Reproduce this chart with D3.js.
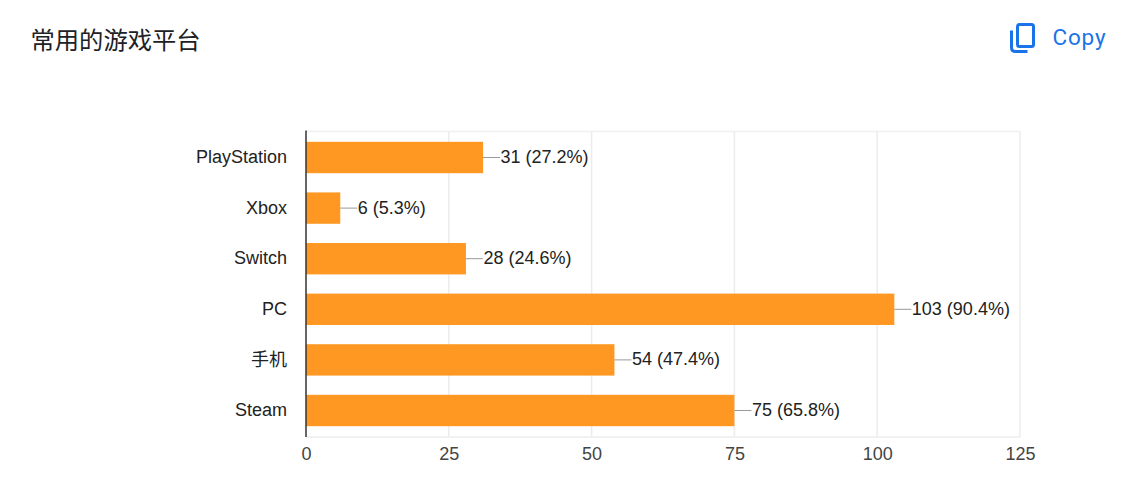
<!DOCTYPE html>
<html lang="zh">
<head>
    <meta charset="UTF-8">
    <title>常用的游戏平台</title>

    <script src="https://d3js.org/d3.v7.min.js"></script>

    <style>
        html, body {
            margin: 0;
            padding: 0;
            background: #fff;
        }

        svg {
            display: block;
        }
    </style>
</head>
<body>
    <svg id="graph"></svg>

    <script>
        const PLATFORMS = ["PlayStation", "Xbox", "Switch", "PC", "手机", "Steam"];
        const COUNTS = [31, 6, 28, 103, 54, 75];
        const PERCENTS = ["27.2%", "5.3%", "24.6%", "90.4%", "47.4%", "65.8%"];
        const X_TICKS = [0, 25, 50, 75, 100, 125];

        const TITLE = "常用的游戏平台";
        const COPY_LABEL = "Copy";

        const width = 1142;
        const height = 495;
        const margins = {top: 131.5, right: 122, bottom: 58, left: 306};
        const sansFont = "Arial, 'Liberation Sans', sans-serif";

        const svg = d3.select("#graph").attr("width", width).attr("height", height);

        svg.append("text")
            .attr("x", 30.5)
            .attr("y", 49)
            .attr("font-family", "'Noto Sans CJK SC', sans-serif")
            .attr("font-size", 24.3)
            .attr("fill", "#202124")
            .text(TITLE);

        // copy button, icon is two rounded rects
        const copy = svg.append("g").attr("fill", "none").attr("stroke", "#1a73e8").attr("stroke-width", 3);
        copy.append("rect")
            .attr("x", 1017.5).attr("y", 24.5)
            .attr("width", 16).attr("height", 22).attr("rx", 2);
        copy.append("path").attr("d", "M1011.5 30.5v17q0 4 4 4h12");
        svg.append("text")
            .attr("x", 1052.5)
            .attr("y", 45)
            .attr("font-family", "Roboto, sans-serif")
            .attr("font-size", 22.5)
            .attr("letter-spacing", 0.8)
            .attr("fill", "#1a73e8")
            .text(COPY_LABEL);

        const x = d3.scaleLinear().domain([0, 125]).range([margins.left, width - margins.right]);
        const y = d3.scaleBand().domain(PLATFORMS)
            .range([132.2, 435.8])
            .paddingInner(0.38)
            .paddingOuter(0.19);

        const plotTop = margins.top;
        const plotBottom = height - margins.bottom;

        // grid
        svg.append("g")
            .selectAll("line")
            .data(X_TICKS.slice(1))
            .join("line")
            .attr("x1", d => x(d)).attr("x2", d => x(d))
            .attr("y1", plotTop).attr("y2", plotBottom)
            .attr("stroke", "#ececec")
            .attr("stroke-width", 1.5);
        svg.append("line")
            .attr("x1", margins.left).attr("x2", x(125))
            .attr("y1", plotTop).attr("y2", plotTop)
            .attr("stroke", "#f0f0f0").attr("stroke-width", 1.5);
        svg.append("line")
            .attr("x1", margins.left).attr("x2", x(125))
            .attr("y1", plotBottom).attr("y2", plotBottom)
            .attr("stroke", "#ececec").attr("stroke-width", 1.5);

        // bars
        svg.append("g")
            .selectAll("rect")
            .data(PLATFORMS)
            .join("rect")
            .attr("x", x(0))
            .attr("y", d => y(d))
            .attr("width", (d, i) => x(COUNTS[i]) - x(0))
            .attr("height", y.bandwidth())
            .attr("fill", "#ff9822");

        // leader lines and value labels
        const labels = svg.append("g");
        PLATFORMS.forEach((p, i) => {
            const cy = y(p) + y.bandwidth() / 2;
            labels.append("line")
                .attr("x1", x(COUNTS[i])).attr("x2", x(COUNTS[i]) + 17)
                .attr("y1", cy).attr("y2", cy)
                .attr("stroke", "#999").attr("stroke-width", 1);
            labels.append("text")
                .attr("x", x(COUNTS[i]) + 17.5)
                .attr("y", cy + 5.5)
                .attr("font-family", sansFont)
                .attr("font-size", 18)
                .attr("fill", "#222")
                .text(COUNTS[i] + " (" + PERCENTS[i] + ")");
        });

        // left axis
        const yAxis = svg.append("g")
            .attr("transform", "translate(" + margins.left + ",0)")
            .call(d3.axisLeft(y).tickSize(0).tickPadding(19));
        yAxis.selectAll("text")
            .attr("font-family", sansFont + ", 'Noto Sans CJK SC'")
            .attr("font-size", 18)
            .attr("fill", "#222");
        yAxis.select(".domain")
            .attr("stroke", "#333")
            .attr("stroke-width", 1.5)
            .attr("d", "M0," + (plotTop - 1) + "V" + plotBottom);

        // bottom axis
        const xAxis = svg.append("g")
            .attr("transform", "translate(0," + plotBottom + ")")
            .call(d3.axisBottom(x).tickValues(X_TICKS).tickSize(0).tickPadding(10.5));
        xAxis.select(".domain").remove();
        xAxis.selectAll("text")
            .attr("font-family", sansFont)
            .attr("font-size", 18)
            .attr("fill", "#444");
    </script>
</body>
</html>
